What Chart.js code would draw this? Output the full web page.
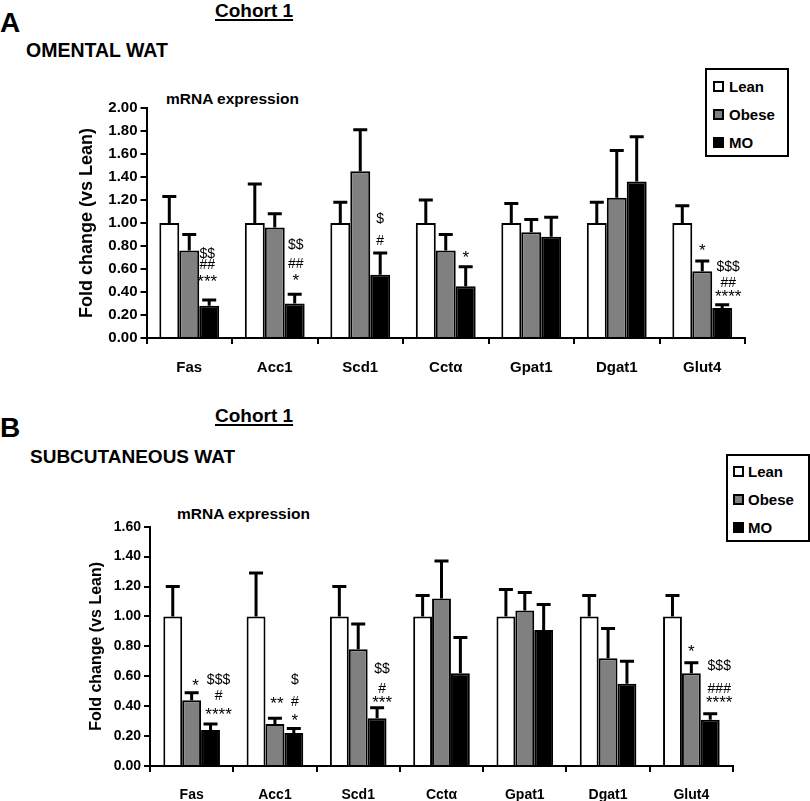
<!DOCTYPE html>
<html><head><meta charset="utf-8">
<script src="https://cdn.jsdelivr.net/npm/chart.js@4/dist/chart.umd.min.js"></script>
<style>
body{margin:0;width:810px;height:801px;position:relative;overflow:hidden;background:#fff;font-family:"Liberation Sans",Arial,sans-serif;}
.t{position:absolute;font-weight:bold;line-height:1;white-space:nowrap;color:#000}
.u{text-decoration:underline;text-decoration-thickness:2px;text-underline-offset:2px}
canvas{position:absolute;left:0}
.legend{position:absolute;border:2px solid #000;box-sizing:border-box;background:#fff}
.li{position:absolute;font-weight:bold;font-size:15px;line-height:1;white-space:nowrap}
.sq{position:absolute;width:11px;height:11px;box-sizing:border-box;border:2px solid #000}
</style></head>
<body>
<div class="t" style="left:0;top:9px;font-size:28px">A</div>
<div class="t u" style="left:215px;top:1px;font-size:19px">Cohort 1</div>
<div class="t" style="left:26px;top:41px;font-size:19.5px">OMENTAL WAT</div>
<div class="t" style="left:166px;top:91px;font-size:15.5px">mRNA expression</div>

<div class="t" style="left:0;top:414px;font-size:28px">B</div>
<div class="t u" style="left:215px;top:406px;font-size:19px">Cohort 1</div>
<div class="t" style="left:30px;top:447px;font-size:19px">SUBCUTANEOUS WAT</div>
<div class="t" style="left:177px;top:506px;font-size:15.5px">mRNA expression</div>

<canvas id="cA" width="810" height="290" style="top:90px;width:810px;height:290px"></canvas>
<canvas id="cB" width="810" height="301" style="top:500px;width:810px;height:301px"></canvas>

<script>
// ---------- data ----------
const categories = ['Fas','Acc1','Scd1','Cct\u03b1','Gpat1','Dgat1','Glut4'];
const seriesNames = ['Lean','Obese','MO'];
const seriesColors = ['#ffffff','#808080','#000000'];

// Panel A: omental WAT (mean fold change and SEM)
const omentalLean     = [1.00,1.00,1.00,1.00,1.00,1.00,1.00];
const omentalLeanSem  = [0.23,0.34,0.18,0.20,0.17,0.18,0.15];
const omentalObese    = [0.76,0.96,1.45,0.76,0.92,1.22,0.58];
const omentalObeseSem = [0.14,0.12,0.36,0.14,0.11,0.41,0.09];
const omentalMO       = [0.28,0.30,0.55,0.45,0.88,1.36,0.26];
const omentalMOSem    = [0.05,0.08,0.19,0.17,0.17,0.39,0.03];

// Panel B: subcutaneous WAT
const subcutLean     = [1.00,1.00,1.00,1.00,1.00,1.00,1.00];
const subcutLeanSem  = [0.20,0.29,0.20,0.14,0.18,0.14,0.14];
const subcutObese    = [0.44,0.28,0.78,1.12,1.04,0.72,0.62];
const subcutObeseSem = [0.05,0.04,0.17,0.25,0.12,0.20,0.07];
const subcutMO       = [0.24,0.22,0.32,0.62,0.91,0.55,0.31];
const subcutMOSem    = [0.04,0.03,0.07,0.24,0.17,0.15,0.04];

// y tick settings
const omentalYMax = 2.0, subcutYMax = 1.6, yStep = 0.2;

// significance marks: [category, series index, text, value level, nudge]
const omentalMarks = [
  ['Fas',2,'$$',0.74,-2],['Fas',2,'##',0.64,-2],['Fas',2,'***',0.52,-2],
  ['Acc1',2,'$$',0.82,1],['Acc1',2,'##',0.65,1],['Acc1',2,'*',0.53,1],
  ['Scd1',2,'$',1.04,0],['Scd1',2,'#',0.85,0],
  ['Cct\u03b1',2,'*',0.73,0],
  ['Glut4',1,'*',0.79,0],['Glut4',2,'$$$',0.63,6],['Glut4',2,'##',0.49,6],['Glut4',2,'****',0.39,6]
];
const subcutMarks = [
  ['Fas',1,'*',0.56,4],['Fas',2,'$$$',0.58,8],['Fas',2,'#',0.475,8],['Fas',2,'****',0.37,8],
  ['Acc1',1,'**',0.44,2],['Acc1',2,'$',0.58,1],['Acc1',2,'#',0.436,1],['Acc1',2,'*',0.325,1],
  ['Scd1',2,'$$',0.653,5],['Scd1',2,'#',0.523,5],['Scd1',2,'***',0.45,5],
  ['Glut4',1,'*',0.787,0],['Glut4',2,'$$$',0.675,9],['Glut4',2,'###',0.52,9],['Glut4',2,'****',0.448,9]
];

// ---------- plugins ----------
const errorBars = {
  id:'errorBars',
  afterDatasetsDraw(chart){
    const ctx = chart.ctx, y = chart.scales.y;
    ctx.save();
    ctx.strokeStyle = '#000'; ctx.lineWidth = 3; ctx.lineCap = 'butt';
    chart.data.datasets.forEach((ds, di) => {
      const meta = chart.getDatasetMeta(di);
      meta.data.forEach((bar, i) => {
        const top = y.getPixelForValue(ds.data[i] + ds.errors[i]);
        ctx.beginPath();
        ctx.moveTo(bar.x, bar.y); ctx.lineTo(bar.x, top);
        ctx.moveTo(bar.x - 7, top); ctx.lineTo(bar.x + 7, top);
        ctx.stroke();
      });
    });
    ctx.restore();
  }
};
const sigMarks = {
  id:'sigMarks',
  afterDatasetsDraw(chart, args, opts){
    const ctx = chart.ctx, y = chart.scales.y;
    ctx.save();
    ctx.fillStyle = '#000'; ctx.textAlign = 'center'; ctx.textBaseline = 'alphabetic';
    (opts.items || []).forEach(([cat, s, txt, v, dx]) => {
      const i = chart.data.labels.indexOf(cat);
      const bar = chart.getDatasetMeta(s).data[i];
      const isStar = txt[0] === '*';
      ctx.font = isStar ? '17px "Liberation Sans", Arial' : '14px "Liberation Sans", Arial';
      const m = ctx.measureText(txt);
      const cy = y.getPixelForValue(v);
      const base = cy + (m.actualBoundingBoxAscent - m.actualBoundingBoxDescent) / 2;
      ctx.fillText(txt, bar.x + dx, base);
    });
    ctx.restore();
  }
};

function buildChart(id, values, sems, yMax, marks, g){
  const datasets = seriesNames.map((n, k) => ({
    label: n, data: values[k], errors: sems[k],
    backgroundColor: seriesColors[k], borderColor: '#000', borderWidth: 2,
    categoryPercentage: g.catPct, barPercentage: 1.0
  }));
  return new Chart(document.getElementById(id), {
    type: 'bar',
    data: { labels: categories, datasets },
    plugins: [errorBars, sigMarks],
    options: {
      responsive: false, animation: false, devicePixelRatio: 1,
      layout: { padding: { top: g.padTop, right: g.padRight, left: 0, bottom: 0 } },
      plugins: { legend: { display: false }, tooltip: { enabled: false }, sigMarks: { items: marks } },
      scales: {
        x: {
          afterFit: s => { s.height = g.xHeight; },
          grid: { display: true, offset: true, drawOnChartArea: false, drawTicks: true, tickLength: 6, color: '#000', lineWidth: 2 },
          border: { display: true, color: '#000', width: 2 },
          ticks: { color: '#000', font: { family: '"Liberation Sans", Arial', weight: 'bold', size: g.xFont }, padding: g.xPad, maxRotation: 0 }
        },
        y: {
          min: 0, max: yMax,
          afterFit: s => { s.width = g.yWidth; },
          grid: { display: true, drawOnChartArea: false, drawTicks: true, tickLength: 6, color: '#000', lineWidth: 2 },
          border: { display: true, color: '#000', width: 2 },
          ticks: { stepSize: yStep, color: '#000', padding: 3, font: { family: '"Liberation Sans", Arial', weight: 'bold', size: g.yFont },
                   callback: v => Number(v).toFixed(2) },
          title: { display: true, text: 'Fold change (vs Lean)', color: '#000',
                   font: { family: '"Liberation Sans", Arial', weight: 'bold', size: g.titleFont, lineHeight: 1.2 },
                   padding: { top: g.titleCenter - g.titleFont * 0.6, bottom: 0 } }
        }
      }
    }
  });
}

buildChart('cA', [omentalLean, omentalObese, omentalMO], [omentalLeanSem, omentalObeseSem, omentalMOSem],
  omentalYMax, omentalMarks,
  { catPct: 0.7, padTop: 18, padRight: 65, xHeight: 42, yWidth: 146.5, xFont: 15, yFont: 15, xPad: 15, titleFont: 18, titleCenter: 87 });
buildChart('cB', [subcutLean, subcutObese, subcutMO], [subcutLeanSem, subcutObeseSem, subcutMOSem],
  subcutYMax, subcutMarks,
  { catPct: 0.68, padTop: 26.7, padRight: 77, xHeight: 35, yWidth: 150, xFont: 14, yFont: 14, xPad: 15, titleFont: 16, titleCenter: 97 });

// ---------- legends ----------
function buildLegend(box, sqLeft, txtLeft, centers){
  const b = document.createElement('div');
  b.className = 'legend';
  Object.assign(b.style, { left: box[0] + 'px', top: box[1] + 'px', width: box[2] + 'px', height: box[3] + 'px' });
  document.body.appendChild(b);
  seriesNames.forEach((n, k) => {
    const sq = document.createElement('div');
    sq.className = 'sq';
    Object.assign(sq.style, { left: sqLeft + 'px', top: (centers[k] - 5.5) + 'px', background: seriesColors[k] });
    document.body.appendChild(sq);
    const t = document.createElement('div');
    t.className = 'li';
    t.textContent = n;
    Object.assign(t.style, { left: txtLeft + 'px', top: (centers[k] - 7.3) + 'px' });
    document.body.appendChild(t);
  });
}
buildLegend([705, 68, 84, 89], 713, 729, [86, 114, 142.5]);
buildLegend([726, 454, 84, 88], 733, 748, [471, 499, 527.5]);
</script>
</body></html>
